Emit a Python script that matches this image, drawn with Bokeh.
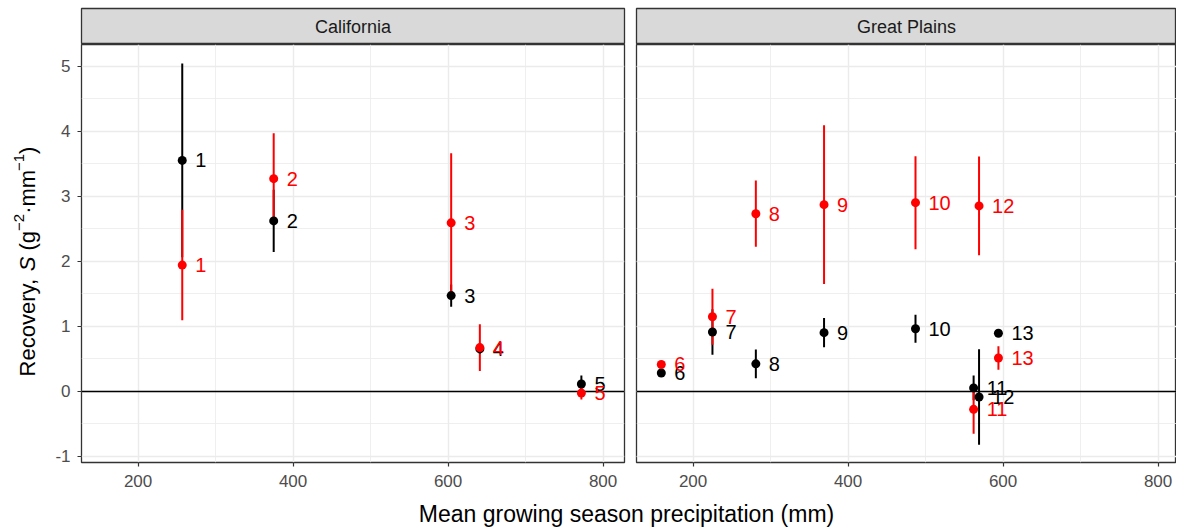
import numpy as np
from bokeh.plotting import figure
from bokeh.layouts import row, column
from bokeh.models import FixedTicker, Range1d, ColumnDataSource, Grid
from bokeh.core.properties import value
from bokeh.embed import file_html
from bokeh.resources import INLINE

# ---------------- data ----------------
panel_names = ["California", "Great Plains"]

ca_site = ["1", "2", "3", "4", "5"]
ca_precip = [257, 375, 604, 641, 772]
ca_black_S = [3.55, 2.62, 1.47, 0.65, 0.11]
ca_black_err = [1.49, 0.48, 0.17, 0.08, 0.13]
ca_red_S = [1.94, 3.27, 2.59, 0.67, -0.03]
ca_red_err = [0.85, 0.70, 1.07, 0.36, 0.10]

gp_site = ["6", "7", "8", "9", "10", "11", "12", "13"]
gp_precip = [159, 225, 281, 369, 487, 562, 569, 594]
gp_black_S = [0.28, 0.91, 0.42, 0.90, 0.96, 0.05, -0.09, 0.89]
gp_black_err = [0.03, 0.35, 0.22, 0.225, 0.215, 0.19, 0.735, 0.03]
gp_red_S = [0.41, 1.145, 2.73, 2.87, 2.90, -0.28, 2.85, 0.51]
gp_red_err = [0.03, 0.43, 0.51, 1.22, 0.715, 0.375, 0.76, 0.18]

x_major = [200, 400, 600, 800]
x_minor = [100, 300, 500, 700, 900]
y_major = [-1, 0, 1, 2, 3, 4, 5]
y_minor = [-1.5, -0.5, 0.5, 1.5, 2.5, 3.5, 4.5, 5.5]
y_tick_text = {-1: "-1"}

x_label = "Mean growing season precipitation (mm)"
# y label pieces: (text, italic, superscript)
y_label_parts = [("Recovery, ", False, False), ("S", True, False), (" (g", False, False),
                 ("\u22122", False, True), ("\u00b7mm", False, False), ("\u22121", False, True),
                 (")", False, False)]

# ---------------- style ----------------
FONT = "Liberation Sans"
BLACK = "#000000"
RED = "#FF0000"
GRID = "#EBEBEB"
BORDER = "#333333"
Y_RANGE = (-1.098, 5.334)
FRAME_H = 418
STRIP_H = 36
TOP_PAD = 8
BOTTOM_AX = 34
YLAB_W = 52

# approximate advance widths (Arial/Liberation metrics, per 1000 em)
ADV = {"R": 722, "e": 556, "c": 500, "o": 556, "v": 500, "r": 333, "y": 500, ",": 278, " ": 278,
       "S": 667, "(": 333, "g": 556, "\u2212": 584, "2": 556, "\u00b7": 278, "m": 833, "1": 556, ")": 333}


def hide_grids(f):
    for g in f.grid:
        g.visible = False


def make_strip(name, fw, ml, mr):
    s = figure(frame_width=fw, frame_height=STRIP_H, x_range=Range1d(0, 1), y_range=Range1d(0, 1),
               toolbar_location=None, output_backend="svg", x_axis_location=None, y_axis_location=None,
               min_border_left=ml, min_border_right=mr, min_border_top=TOP_PAD, min_border_bottom=0)
    hide_grids(s)
    s.background_fill_color = "#D9D9D9"
    s.border_fill_color = "white"
    s.outline_line_color = BORDER
    s.outline_line_width = 1.3
    s.text(x=[0.5], y=[0.5], text=[name], text_align="center", text_baseline="middle",
           text_font=value(FONT), text_font_size="18px", text_color="#1A1A1A")
    return s


def make_panel(precip, site, bS, bE, rS, rE, fw, xr, ml, mr, show_y):
    p = figure(frame_width=fw, frame_height=FRAME_H, x_range=Range1d(*xr), y_range=Range1d(*Y_RANGE),
               toolbar_location=None, output_backend="svg",
               y_axis_location="left" if show_y else None,
               min_border_left=ml, min_border_right=mr, min_border_top=0, min_border_bottom=BOTTOM_AX)
    p.background_fill_color = "white"
    p.border_fill_color = "white"
    p.outline_line_color = BORDER
    p.outline_line_width = 1.3

    # x axis
    p.xaxis.ticker = FixedTicker(ticks=x_major, minor_ticks=x_minor)
    p.xaxis.axis_line_color = None
    p.xaxis.major_tick_line_color = BORDER
    p.xaxis.major_tick_line_width = 1.2
    p.xaxis.major_tick_out = 4
    p.xaxis.major_tick_in = 0
    p.xaxis.minor_tick_line_color = None
    p.xaxis.major_label_text_font = FONT
    p.xaxis.major_label_text_font_size = "17px"
    p.xaxis.major_label_text_color = "#4D4D4D"
    p.xaxis.major_label_standoff = 8

    p.xgrid.grid_line_color = GRID
    p.xgrid.grid_line_width = 1.4
    p.xgrid.minor_grid_line_color = GRID
    p.xgrid.minor_grid_line_width = 0.8

    yt = FixedTicker(ticks=y_major, minor_ticks=y_minor)
    if show_y:
        p.yaxis.ticker = yt
        p.yaxis.axis_line_color = None
        p.yaxis.major_tick_line_color = BORDER
        p.yaxis.major_tick_line_width = 1.2
        p.yaxis.major_tick_out = 4
        p.yaxis.major_tick_in = 0
        p.yaxis.minor_tick_line_color = None
        p.yaxis.major_label_text_font = FONT
        p.yaxis.major_label_text_font_size = "17px"
        p.yaxis.major_label_text_color = "#4D4D4D"
        p.yaxis.major_label_standoff = 7
        p.yaxis.major_label_overrides = y_tick_text
        p.ygrid.grid_line_color = GRID
        p.ygrid.grid_line_width = 1.4
        p.ygrid.minor_grid_line_color = GRID
        p.ygrid.minor_grid_line_width = 0.8
    else:
        g = Grid(dimension=1, ticker=yt, grid_line_color=GRID, grid_line_width=1.4,
                 minor_grid_line_color=GRID, minor_grid_line_width=0.8)
        p.add_layout(g)

    # zero line
    p.hspan(y=[0], line_color="black", line_width=1.6)

    bS = np.array(bS); bE = np.array(bE); rS = np.array(rS); rE = np.array(rE)
    black = ColumnDataSource(dict(x=precip, y=bS, lo=bS - bE, hi=bS + bE, t=site))
    red = ColumnDataSource(dict(x=precip, y=rS, lo=rS - rE, hi=rS + rE, t=site))

    p.segment(x0="x", y0="lo", x1="x", y1="hi", source=black, line_color=BLACK, line_width=2)
    p.segment(x0="x", y0="lo", x1="x", y1="hi", source=red, line_color=RED, line_width=2)
    p.scatter(x="x", y="y", source=black, size=9, fill_color=BLACK, line_color=None)
    p.scatter(x="x", y="y", source=red, size=9, fill_color=RED, line_color=None)
    for src, col in ((black, BLACK), (red, RED)):
        p.text(x="x", y="y", text="t", source=src, x_offset=13, text_align="left",
               text_baseline="middle", text_font=value(FONT), text_font_size="20px", text_color=col)
    return p


# ---------------- y-axis title (rotated, with italic S and superscripts) ----------------
COL_H = TOP_PAD + STRIP_H + FRAME_H + BOTTOM_AX
yl = figure(frame_width=YLAB_W, frame_height=COL_H, x_range=Range1d(0, YLAB_W), y_range=Range1d(COL_H, 0),
            toolbar_location=None, output_backend="svg", x_axis_location=None, y_axis_location=None,
            min_border=0)
hide_grids(yl)
yl.outline_line_color = None
BASE_SIZE, SUP_SIZE = 22, 15
BASE_X, SUP_X = 27, 18
widths = []
for txt, it, sup in y_label_parts:
    sz = SUP_SIZE if sup else BASE_SIZE
    widths.append(sum(ADV.get(ch, 556) for ch in txt) / 1000.0 * sz)
center = 261
pos = center + sum(widths) / 2.0
for (txt, it, sup), w in zip(y_label_parts, widths):
    sz = SUP_SIZE if sup else BASE_SIZE
    shown = txt.strip()
    lead = (len(txt) - len(txt.lstrip())) * ADV[" "] / 1000.0 * sz
    yl.text(x=[SUP_X if sup else BASE_X], y=[pos - lead], text=[shown], angle=np.pi / 2,
            text_align="left", text_baseline="alphabetic", text_font=value(FONT),
            text_font_size=f"{sz}px",
            text_font_style="italic" if it else "normal", text_color="black")
    pos -= w

LEFT_ML, LEFT_FW, LEFT_MR = 81 - YLAB_W, 543, 6
RIGHT_ML, RIGHT_FW, RIGHT_MR = 6, 540, 0
PX_PER_UNIT = 155.0 / 200.0
X0 = 127.0
xr_left = (X0, X0 + LEFT_FW / PX_PER_UNIT)
xr_right = (X0, X0 + RIGHT_FW / PX_PER_UNIT)

s1 = make_strip(panel_names[0], LEFT_FW, LEFT_ML, LEFT_MR)
s2 = make_strip(panel_names[1], RIGHT_FW, RIGHT_ML, RIGHT_MR)
p1 = make_panel(ca_precip, ca_site, ca_black_S, ca_black_err, ca_red_S, ca_red_err,
                LEFT_FW, xr_left, LEFT_ML, LEFT_MR, True)
p2 = make_panel(gp_precip, gp_site, gp_black_S, gp_black_err, gp_red_S, gp_red_err,
                RIGHT_FW, xr_right, RIGHT_ML, RIGHT_MR, False)

TOTAL_W = YLAB_W + LEFT_ML + LEFT_FW + LEFT_MR + RIGHT_ML + RIGHT_FW + RIGHT_MR
TITLE_H = 31
t = figure(frame_width=TOTAL_W, frame_height=TITLE_H, x_range=Range1d(0, TOTAL_W), y_range=Range1d(0, TITLE_H),
           toolbar_location=None, output_backend="svg", x_axis_location=None, y_axis_location=None,
           min_border=0)
hide_grids(t)
t.outline_line_color = None
t.text(x=[626], y=[14], text=[x_label], text_align="center", text_baseline="middle",
       text_font=value(FONT), text_font_size="23px", text_color="black")

layout = column(row(yl, column(s1, p1), column(s2, p2)), t)

open("out.html", "w").write(file_html(layout, INLINE))
